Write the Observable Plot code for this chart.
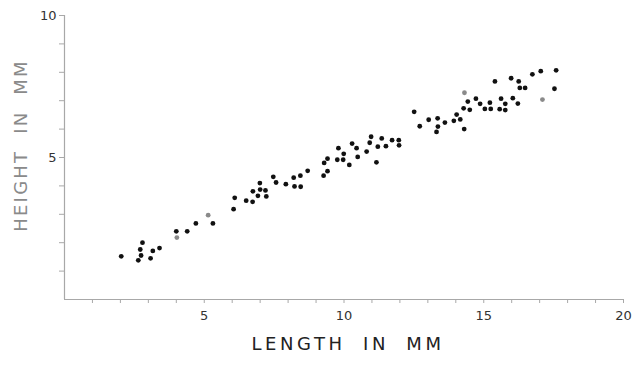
<!DOCTYPE html>
<html>
<head>
<meta charset="utf-8">
<script src="https://cdn.jsdelivr.net/npm/d3@7"></script>
<script src="https://cdn.jsdelivr.net/npm/@observablehq/plot@0.6"></script>
<style>
  body { margin: 0; background: #fff; }
  .xlabel text { letter-spacing: 3.6px; word-spacing: 8px; }
  .ylabel text { letter-spacing: 2.2px; word-spacing: 8px; }
</style>
</head>
<body>
<div id="chart"></div>
<script>
// Shell measurements: length and height in millimetres
const lengthMM = [
  2.03, 2.64, 2.71, 2.79, 2.74, 3.08, 3.16, 3.40, 4.00, 4.39,
  4.70, 5.31, 6.05, 6.09, 6.50, 6.73, 6.74, 6.92, 6.99, 7.00,
  7.19, 7.22, 7.47, 7.57, 7.92, 8.20, 8.23, 8.44, 8.45, 8.70,
  9.27, 9.29, 9.41, 9.41, 9.76, 9.80, 9.99, 9.97, 10.19, 10.29,
  10.45, 10.49, 10.81, 10.92, 10.97, 11.16, 11.21, 11.35, 11.50, 11.72,
  11.96, 11.97, 12.51, 12.71, 13.03, 13.35, 13.36, 13.31, 13.61, 13.93,
  14.03, 14.16, 14.30, 14.28, 14.43, 14.50, 14.72, 14.87, 15.04, 15.22,
  15.25, 15.40, 15.57, 15.62, 15.77, 15.77, 15.98, 16.04, 16.22, 16.25,
  16.29, 16.48, 16.74, 17.04, 17.53, 17.59
];
const heightMM = [
  1.52, 1.38, 1.76, 2.00, 1.55, 1.45, 1.71, 1.81, 2.40, 2.40,
  2.68, 2.68, 3.18, 3.58, 3.48, 3.44, 3.81, 3.65, 4.10, 3.87,
  3.84, 3.63, 4.32, 4.12, 4.06, 4.29, 3.98, 4.36, 3.97, 4.53,
  4.36, 4.81, 4.96, 4.52, 4.92, 5.33, 5.13, 4.92, 4.74, 5.49,
  5.33, 5.02, 5.21, 5.52, 5.73, 4.83, 5.38, 5.67, 5.40, 5.61,
  5.61, 5.43, 6.61, 6.10, 6.33, 6.38, 6.09, 5.90, 6.23, 6.29,
  6.51, 6.34, 6.00, 6.73, 6.97, 6.68, 7.07, 6.89, 6.71, 6.93,
  6.71, 7.68, 6.70, 7.07, 6.89, 6.67, 7.79, 7.09, 6.90, 7.68,
  7.45, 7.45, 7.93, 8.04, 7.42, 8.07
];

// Faint (lighter printed) specimens
const fadedLength = [4.02, 5.14, 14.31, 17.10];
const fadedHeight = [2.18, 2.97, 7.28, 7.04];

const xTicks = d3.range(1, 21);
const yTicks = d3.range(1, 11);
const xLabel = "LENGTH IN MM";
const yLabel = "HEIGHT IN MM";

const points = lengthMM.map((x, i) => ({x, y: heightMM[i]}));
const faded = fadedLength.map((x, i) => ({x, y: fadedHeight[i]}));

const chart = Plot.plot({
  width: 635,
  height: 365,
  marginLeft: 64,
  marginRight: 12,
  marginTop: 15,
  marginBottom: 66,
  style: {fontFamily: "DejaVu Sans", fontSize: "13px", background: "#fff", color: "#333"},
  x: {domain: [0, 20]},
  y: {domain: [0, 10]},
  marks: [
    Plot.ruleY([0], {stroke: "#a8a8a8", strokeWidth: 1.2}),
    Plot.ruleX([0], {stroke: "#a8a8a8", strokeWidth: 1.2}),
    Plot.axisX({
      ticks: xTicks, tickSize: 4, tickPadding: 7, stroke: "#a8a8a8", fill: "#333",
      tickFormat: d => d % 5 ? "" : d, label: null
    }),
    Plot.axisY({
      ticks: yTicks, tickSize: 5, tickPadding: 3, stroke: "#a8a8a8", fill: "#333",
      tickFormat: d => d % 5 ? "" : d, label: null
    }),
    Plot.dot(faded, {x: "x", y: "y", r: 2.4, fill: "#8a8a8a", stroke: "none"}),
    Plot.dot(points, {x: "x", y: "y", r: 2.4, fill: "#111", stroke: "none"}),
    Plot.text([xLabel], {frameAnchor: "bottom", dx: 4, dy: 50, fontSize: 18, fill: "#222", className: "xlabel"}),
    Plot.text([yLabel], {
      frameAnchor: "left", textAnchor: "middle", rotate: -90, dx: -43, dy: -12,
      fontSize: 18, fill: "#8a8a8a", className: "ylabel"
    })
  ]
});

document.getElementById("chart").appendChild(chart);
</script>
</body>
</html>
